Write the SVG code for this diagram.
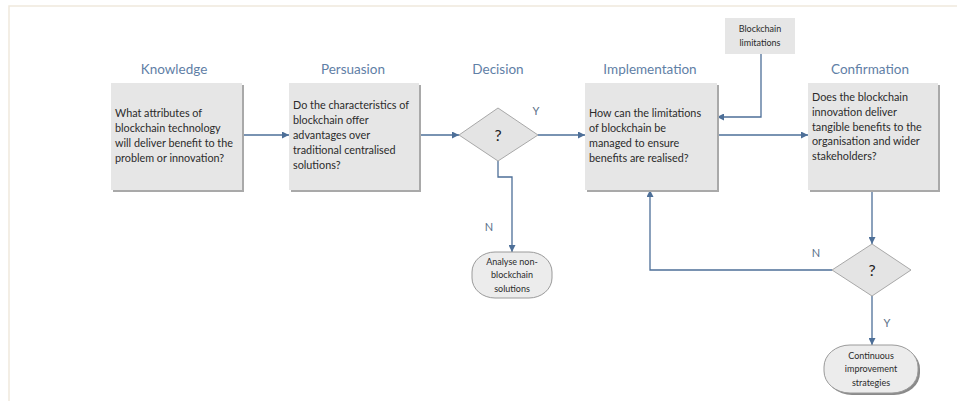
<svg xmlns="http://www.w3.org/2000/svg" width="958" height="401" viewBox="0 0 958 401">
  <style>
    .title { font-family: Lato, "Open Sans", sans-serif; font-size: 13.5px; fill: #5f80a6; text-anchor: middle; }
    .body { font-family: Lato, "Liberation Sans", sans-serif; font-size: 10.8px; fill: #2b2b2b; }
    .small { font-family: Lato, "Liberation Sans", sans-serif; font-size: 9px; fill: #2b2b2b; text-anchor: middle; }
    .lbl { font-family: Lato, "Open Sans", sans-serif; font-size: 11px; fill: #5a6f88; text-anchor: middle; }
    .q { font-family: Lato, "Liberation Sans", sans-serif; font-size: 16px; fill: #222; text-anchor: middle; }
    .box { fill: #e6e6e6; }
    .shadow { fill: #a9a9a9; }
    .dec { fill: #e4e4e4; stroke: #a8a8a8; stroke-width: 1; }
    .term { fill: #ececec; stroke: #9a9a9a; stroke-width: 1; }
    .conn { fill: none; stroke: #4d6f98; stroke-width: 1.3; }
  </style>
  <defs>
    <marker id="arrow" viewBox="0 0 10 10" refX="10" refY="5" markerWidth="7" markerHeight="7" markerUnits="userSpaceOnUse" orient="auto">
      <path d="M0,0 L10,5 L0,10 z" fill="#4d6f98"/>
    </marker>
  </defs>

  <!-- page frame -->
  <rect x="0" y="0" width="958" height="401" fill="#ffffff"/>
  <path d="M9,401 V6 H957" fill="none" stroke="#efe9dd" stroke-width="1.5"/>

  <!-- phase titles -->
  <g id="titles">
    <text class="title" x="174" y="74">Knowledge</text>
    <text class="title" x="353" y="74">Persuasion</text>
    <text class="title" x="498" y="74">Decision</text>
    <text class="title" x="650" y="74">Implementation</text>
    <text class="title" x="870" y="74">Confirmation</text>
  </g>

  <!-- connectors -->
  <g id="connectors">
    <path class="conn" d="M242,135 H289" marker-end="url(#arrow)"/>
    <path class="conn" d="M419,135 H459" marker-end="url(#arrow)"/>
    <path class="conn" d="M538,135 H585" marker-end="url(#arrow)"/>
    <path class="conn" d="M498,161 V177 H512 V252" marker-end="url(#arrow)"/>
    <path class="conn" d="M761,54 V117 H717" marker-end="url(#arrow)"/>
    <path class="conn" d="M717,135 H808" marker-end="url(#arrow)"/>
    <path class="conn" d="M872,190 V244" marker-end="url(#arrow)"/>
    <path class="conn" d="M832,270 H650 V190" marker-end="url(#arrow)"/>
    <path class="conn" d="M872,296 V345" marker-end="url(#arrow)"/>
  </g>

  <!-- Knowledge -->
  <g id="knowledge">
    <rect class="shadow" x="113" y="85" width="131" height="107"/>
    <rect class="box" x="111" y="83" width="131" height="107"/>
    <text class="body" x="115" y="117">What attributes of</text>
    <text class="body" x="115" y="132">blockchain technology</text>
    <text class="body" x="115" y="147">will deliver benefit to the</text>
    <text class="body" x="115" y="162">problem or innovation?</text>
  </g>

  <!-- Persuasion -->
  <g id="persuasion">
    <rect class="shadow" x="291" y="85" width="130" height="107"/>
    <rect class="box" x="289" y="83" width="130" height="107"/>
    <text class="body" x="293" y="109">Do the characteristics of</text>
    <text class="body" x="293" y="124">blockchain offer</text>
    <text class="body" x="293" y="139">advantages over</text>
    <text class="body" x="293" y="154">traditional centralised</text>
    <text class="body" x="293" y="169">solutions?</text>
  </g>

  <!-- Decision -->
  <g id="decision">
    <polygon class="dec" points="498,108 538,135 498,161 459,135"/>
    <text class="q" x="498" y="141">?</text>
    <text class="lbl" x="536" y="115">Y</text>
    <text class="lbl" x="489" y="231">N</text>
  </g>

  <!-- Analyse non-blockchain solutions -->
  <g id="analyse">
    <rect class="term" x="472" y="252" width="80" height="46" rx="23" ry="20"/>
    <text class="small" x="512" y="265">Analyse non-</text>
    <text class="small" x="512" y="278">blockchain</text>
    <text class="small" x="512" y="292">solutions</text>
  </g>

  <!-- Implementation -->
  <g id="implementation">
    <rect class="shadow" x="587" y="85" width="132" height="107"/>
    <rect class="box" x="585" y="83" width="132" height="107"/>
    <text class="body" x="589" y="117">How can the limitations</text>
    <text class="body" x="589" y="132">of blockchain be</text>
    <text class="body" x="589" y="147">managed to ensure</text>
    <text class="body" x="589" y="162">benefits are realised?</text>
  </g>

  <!-- Blockchain limitations -->
  <g id="limitations">
    <rect class="box" x="725" y="18" width="70" height="36" fill="#e2e2e2"/>
    <text class="small" x="760" y="32">Blockchain</text>
    <text class="small" x="760" y="46">limitations</text>
  </g>

  <!-- Confirmation -->
  <g id="confirmation">
    <rect class="shadow" x="810" y="85" width="130" height="107"/>
    <rect class="box" x="808" y="83" width="130" height="107"/>
    <text class="body" x="812" y="101">Does the blockchain</text>
    <text class="body" x="812" y="116">innovation deliver</text>
    <text class="body" x="812" y="131">tangible benefits to the</text>
    <text class="body" x="812" y="145">organisation and wider</text>
    <text class="body" x="812" y="160">stakeholders?</text>
  </g>

  <!-- Confirmation decision -->
  <g id="decision2">
    <polygon class="dec" points="872,244 911,270 872,296 832,270"/>
    <text class="q" x="872" y="276">?</text>
    <text class="lbl" x="816" y="257">N</text>
    <text class="lbl" x="887" y="327">Y</text>
  </g>

  <!-- Continuous improvement strategies -->
  <g id="improvement">
    <rect x="826" y="347" width="94" height="48" rx="26" ry="22" fill="#8a8a8a"/>
    <rect class="term" x="824" y="345" width="94" height="48" rx="26" ry="22"/>
    <text class="small" x="871" y="359">Continuous</text>
    <text class="small" x="871" y="372">improvement</text>
    <text class="small" x="871" y="386">strategies</text>
  </g>
</svg>
